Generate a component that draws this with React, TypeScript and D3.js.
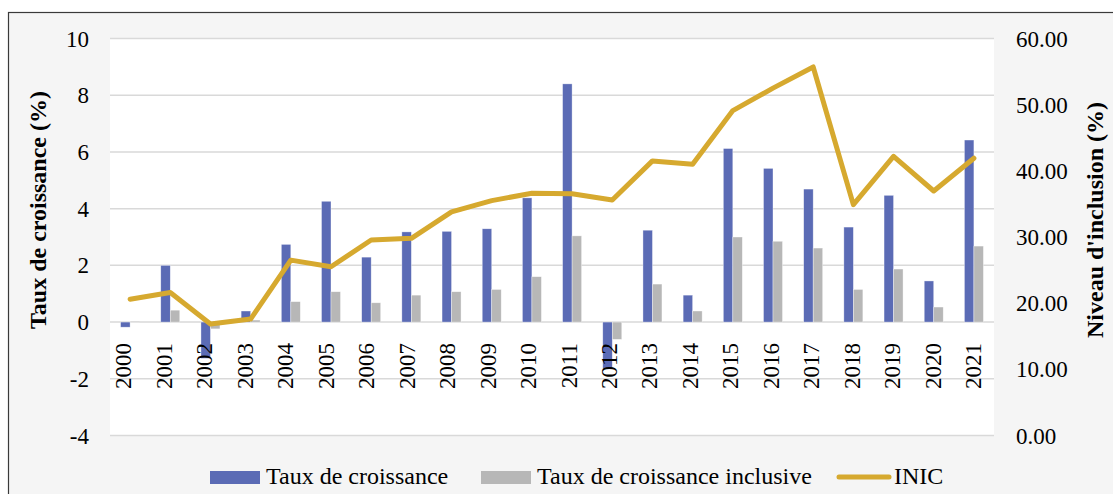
import React from "react";
import * as d3 from "d3";

const years = ["2000","2001","2002","2003","2004","2005","2006","2007","2008","2009","2010","2011","2012","2013","2014","2015","2016","2017","2018","2019","2020","2021"];
const croissance = [-0.18, 2.0, -1.28, 0.39, 2.74, 4.26, 2.29, 3.18, 3.2, 3.29, 4.38, 8.4, -1.65, 3.24, 0.95, 6.12, 5.42, 4.69, 3.35, 4.47, 1.45, 6.42];
const inclusive = [0.03, 0.42, -0.24, 0.07, 0.72, 1.07, 0.68, 0.95, 1.07, 1.15, 1.6, 3.04, -0.61, 1.34, 0.39, 3.0, 2.85, 2.61, 1.15, 1.87, 0.53, 2.68];
const inic = [20.6, 21.6, 16.85, 17.6, 26.5, 25.5, 29.55, 29.8, 33.8, 35.5, 36.6, 36.55, 35.6, 41.5, 41.0, 49.1, 52.5, 55.7, 34.9, 42.2, 36.95, 41.9];
const leftTicks = [-4, -2, 0, 2, 4, 6, 8, 10];
const rightTicks = [0, 10, 20, 30, 40, 50, 60];
const legendLabels = ["Taux de croissance", "Taux de croissance inclusive", "INIC"];

const BLUE = "#5b6bb5";
const GRAY = "#b7b7b7";
const GOLD = "#d6a92f";
const FONT = "'Liberation Serif', 'Times New Roman', serif";

export default function App() {
  const W = 1113, H = 494;
  const x0 = 110, x1 = 994, yTop = 38.5, yBot = 435.5;
  const x = d3.scaleBand<string>().domain(years).range([x0, x1]).padding(0);
  const xl = d3.scalePoint<string>().domain(years).range([123.5, 973.5]);
  const yL = d3.scaleLinear().domain([-4, 10]).range([yBot, yTop]);
  const yR = d3.scaleLinear().domain([0, 60]).range([yBot, yTop]);
  const bw = 9.5;
  const cx = (y: string) => (x(y) as number) + x.bandwidth() / 2;
  const line = d3.line<number>().x((_, i) => cx(years[i])).y((v) => yR(v));

  return (
    <svg width={W} height={H} style={{ position: "absolute", left: 0, top: 0, background: "#ffffff" }} fontFamily={FONT}>
      <rect x={8.5} y={12.5} width={1120} height={500} fill="#f5f5f5" stroke="#3a3a3a" strokeWidth={1.2} />
      <rect x={x0} y={yTop} width={x1 - x0} height={yBot - yTop} fill="#ffffff" />
      {leftTicks.map((t) => (
        <line key={"g" + t} x1={x0} x2={x1} y1={yL(t)} y2={yL(t)} stroke="#d9d9d9" strokeWidth={1.5} />
      ))}
      {years.map((yr, i) => {
        const v = croissance[i];
        return (
          <rect key={"b" + yr} x={cx(yr) - bw} width={bw} y={Math.min(yL(v), yL(0))} height={Math.abs(yL(v) - yL(0))} fill={BLUE} stroke="#ffffff" strokeOpacity={0.6} strokeWidth={0.6} />
        );
      })}
      {years.map((yr, i) => {
        const v = inclusive[i];
        return (
          <rect key={"c" + yr} x={cx(yr)} width={bw} y={Math.min(yL(v), yL(0))} height={Math.max(0.6, Math.abs(yL(v) - yL(0)))} fill={GRAY} stroke="#ffffff" strokeOpacity={0.6} strokeWidth={0.6} />
        );
      })}
      {years.map((yr) => (
        <text key={"xl" + yr} transform={`translate(${(xl(yr) as number) + 7.8},343) rotate(-90)`} textAnchor="end" fontSize={23} fill="#000">{yr}</text>
      ))}
      <path d={line(inic) || ""} fill="none" stroke={GOLD} strokeWidth={5} strokeLinejoin="round" strokeLinecap="round" />
      {leftTicks.map((t) => (
        <text key={"lt" + t} x={89} y={yL(t)} dy="0.35em" textAnchor="end" fontSize={23} fill="#000">{t}</text>
      ))}
      {rightTicks.map((t) => (
        <text key={"rt" + t} x={1016} y={yR(t)} dy="0.35em" textAnchor="start" fontSize={23} fill="#000">{t.toFixed(2)}</text>
      ))}
      <text transform="translate(46,210) rotate(-90)" textAnchor="middle" fontSize={24} fontWeight="bold" fill="#000">Taux de croissance (%)</text>
      <text transform="translate(1103,220) rotate(-90)" textAnchor="middle" fontSize={24} fontWeight="bold" fill="#000">Niveau d'inclusion (%)</text>
      <rect x={210} y={471} width={50} height={13} fill={BLUE} />
      <text x={266} y={484} fontSize={24} fill="#000">{legendLabels[0]}</text>
      <rect x={481} y={471} width={50} height={13} fill={GRAY} />
      <text x={537} y={484} fontSize={24} fill="#000">{legendLabels[1]}</text>
      <line x1={839} x2={889} y1={477} y2={477} stroke={GOLD} strokeWidth={5} strokeLinecap="round" />
      <text x={894} y={484} fontSize={24} fill="#000">{legendLabels[2]}</text>
    </svg>
  );
}
